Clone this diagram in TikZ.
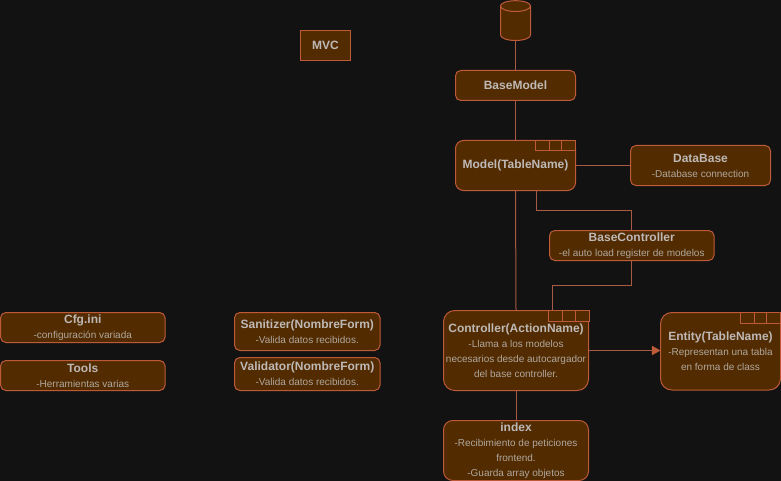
\documentclass[tikz,border=0pt]{standalone}
\usepackage{fontspec}
\setmainfont{Liberation Sans}
\usetikzlibrary{arrows.meta}
\definecolor{bgc}{HTML}{121212}
\definecolor{fillc}{HTML}{522B00}
\definecolor{linec}{HTML}{BF5A39}
\definecolor{wirec}{HTML}{A85A42}
\definecolor{txtc}{HTML}{BEB9B7}
\definecolor{subc}{HTML}{B0A89F}
\newcommand{\ttl}[1]{{\fontsize{9}{11.25}\selectfont\bfseries #1}}
\newcommand{\sbt}[1]{{\fontsize{7.5}{11.25}\selectfont\color{subc}#1}}
\newcommand{\bx}[7][box]{%
  \pgfmathsetmacro{\cxx}{(#3+#5)/2}\pgfmathsetmacro{\cyy}{(#4+#6)/2}%
  \pgfmathsetmacro{\wdd}{(#5-#3)*0.75}\pgfmathsetmacro{\htt}{(#6-#4)*0.75}%
  \node[#1,minimum width=\wdd pt,minimum height=\htt pt] (#2) at (\cxx,\cyy) {#7};}
\tikzset{
  box/.style={draw=linec,fill=fillc,rounded corners=#1,line width=0.75pt,inner sep=0pt,align=center,text=txtc,font=\fontsize{9}{11.25}\selectfont},
  box/.default=4pt,
  sharp/.style={box=0pt},
  wire/.style={draw=wirec,line width=0.75pt},
  tabline/.style={draw=linec,fill=fillc,line width=0.75pt}
}
\begin{document}
\begin{tikzpicture}[x=0.75pt,y=-0.75pt]
\useasboundingbox (0,0) rectangle (781,481);
\fill[bgc] (0,0) rectangle (781,481);
\coordinate (mdown) at (536,190.5);
\coordinate (mjog) at (536,210);
\coordinate (bjog) at (631.5,210);
\coordinate (btop) at (631.5,230.5);
\coordinate (bbot) at (631.5,260.5);
\coordinate (cjog) at (631.5,285);
\coordinate (cjog2) at (552,285);
\coordinate (ctop) at (552,310.5);
\coordinate (cright) at (588.5,350.5);
\coordinate (eleft) at (660.5,350.5);
% cylinder
\node[minimum width=22.5pt,minimum height=30pt,inner sep=0pt] (db) at (515.5,20.5) {};
\path[draw=linec,fill=fillc,line width=0.75pt]
  (500.5,6) .. controls (500.5,3) and (507,0.7) .. (515.5,0.7)
  .. controls (524,0.7) and (530.5,3) .. (530.5,6)
  -- (530.5,35) .. controls (530.5,38) and (524,40.5) .. (515.5,40.5)
  .. controls (507,40.5) and (500.5,38) .. (500.5,35) -- cycle;
\draw[linec,line width=0.75pt]
  (500.5,6) .. controls (500.5,9) and (507,11.5) .. (515.5,11.5)
  .. controls (524,11.5) and (530.5,9) .. (530.5,6);
% boxes
\bx[sharp]{mvc}{300.5}{30.5}{350.5}{60.5}{\ttl{MVC}}
\bx{basemodel}{455.5}{70.5}{575.5}{100.5}{\ttl{BaseModel}}
\bx[box=6pt]{model}{455.5}{140.5}{575.5}{190.5}{\ttl{Model(TableName)}}
\bx{database}{630.5}{145.5}{770.5}{185.5}{\ttl{DataBase}\\\sbt{-Database connection}}
\bx{basectrl}{549.5}{230.5}{714}{260.5}{\ttl{BaseController}\\\sbt{-el auto load register de modelos}}
\bx[box=8.5pt]{controller}{443.5}{310.5}{588.5}{390.5}{\ttl{Controller(ActionName)}\\\sbt{-Llama a los modelos}\\\sbt{necesarios desde autocargador}\\\sbt{del base controller.}}
\bx[box=8.5pt]{entity}{660.5}{312.5}{780.5}{390}{\ttl{Entity(TableName)}\\\sbt{-Representan una tabla}\\\sbt{en forma de class}}
\bx[box=7pt]{index}{443.5}{420.5}{588.5}{480.5}{\ttl{index}\\\sbt{-Recibimiento de peticiones}\\\sbt{frontend.}\\\sbt{-Guarda array objetos}}
\bx{cfg}{0.5}{312.5}{165}{342.5}{\ttl{Cfg.ini}\\\sbt{-configuración variada}}
\bx{tools}{0.5}{360.5}{165}{390.5}{\ttl{Tools}\\\sbt{-Herramientas varias}}
\bx{sanitizer}{234.5}{312.5}{380}{350.5}{\ttl{Sanitizer(NombreForm)}\\\sbt{-Valida datos recibidos.}}
\bx{validator}{234.5}{357.5}{380}{390.5}{\ttl{Validator(NombreForm)}\\\sbt{-Valida datos recibidos.}}
% tabs
\draw[tabline] (535.5,140.5) rectangle (575.5,150.5) (549.5,140.5) -- (549.5,150.5) (561.5,140.5) -- (561.5,150.5);
\draw[tabline] (548.5,310.5) rectangle (589,321) (562.5,310.5) -- (562.5,321) (575,310.5) -- (575,321);
\draw[tabline] (740.5,312.5) rectangle (780.5,323) (754.5,312.5) -- (754.5,323) (766.5,312.5) -- (766.5,323);
% connectors
\draw[wire] (db.south) -- (basemodel.north);
\draw[wire] (basemodel.south) -- (model.north);
\draw[wire] (model.east) -- (database.west);
\draw[wire] (model.south) -- (controller.north);
\draw[wire] (mdown) -- (mjog) -- (bjog) -- (btop);
\draw[wire] (bbot) -- (cjog) -- (cjog2) -- (ctop);
\draw[wire,-{Triangle[length=6.5pt,width=7pt,color=linec]}] (cright) -- (eleft);
\draw[wire] (controller.south) -- (index.north);
\end{tikzpicture}
\end{document}
